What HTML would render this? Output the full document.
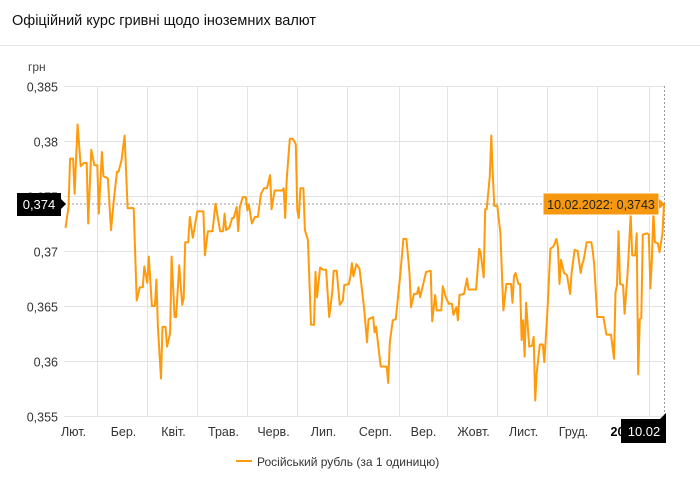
<!DOCTYPE html>
<html><head><meta charset="utf-8"><style>
body{margin:0;background:#fff;font-family:"Liberation Sans",sans-serif}
svg text{font-family:"Liberation Sans","DejaVu Sans",sans-serif}
</style></head><body>
<svg width="700" height="477" xmlns="http://www.w3.org/2000/svg">
<text x="12" y="25" font-size="14.5" fill="#111" font-weight="500">Офіційний курс гривні щодо іноземних валют</text>
<line x1="0" y1="45.5" x2="700" y2="45.5" stroke="#e6e6e6"/>
<text x="28" y="71" font-size="12" fill="#444">грн</text>
<g id="grid"></g>
<g id="ylabels"></g>
<g id="xlabels"></g>
<line x1="64" y1="204" x2="664" y2="204" stroke="#999" stroke-dasharray="2,2"/>
<line x1="664.5" y1="86" x2="664.5" y2="416" stroke="#999" stroke-dasharray="2,2"/>
<path id="line" fill="none" stroke="#ff9a0c" stroke-width="2" stroke-linejoin="round"/>
<g>
<rect x="17" y="193" width="44" height="23" fill="#000"/>
<polygon points="61,199 66,204 61,209" fill="#000"/>
<text x="39" y="209" font-size="13" fill="#fff" text-anchor="middle">0,374</text>
</g>
<g>
<rect x="543" y="193" width="116" height="22" fill="#f6980f" stroke="#fff" stroke-width="1"/>
<polygon points="659,199 665,204 659,209" fill="#f6980f"/>
<text x="601" y="209" font-size="12.5" fill="#222" text-anchor="middle">10.02.2022: 0,3743</text>
</g>
<g id="xbox">
</g>
<g>
<line x1="236" y1="461" x2="252" y2="461" stroke="#ff9a0c" stroke-width="2"/>
<text x="257" y="466" font-size="12" fill="#333">Російський рубль (за 1 одиницю)</text>
</g>
</svg>
<script>
const days=[1,3,4,6,7,9,11,13,15,16,18,20,22,23,25,26,29,31,33,35,36,38,40,42,45,46,48,50,52,53,55,56,58,60,61,62,64,65,67,68,70,71,73,74,76,78,79,80,82,83,85,88,92,93,95,98,100,103,105,106,107,109,111,112,114,115,116,118,120,121,122,124,126,128,130,132,134,136,137,139,144,145,146,147,149,151,153,154,155,156,158,159,161,163,165,166,167,169,171,173,175,177,178,180,182,184,185,188,189,190,191,193,195,198,200,201,204,205,206,209,213,214,215,217,219,222,224,226,228,229,231,233,234,235,239,242,243,245,246,249,250,252,254,256,257,259,260,261,264,266,267,272,274,275,277,278,279,281,282,283,284,286,288,289,290,292,295,296,297,298,300,301,302,303,304,305,307,309,310,311,312,314,316,317,319,321,323,325,326,327,328,330,332,334,335,337,339,341,342,343,345,348,349,350,352,356,358,361,363,364,365,366,367,369,370,372,374,375,377,378,379,380,381,382,385,386,387,388,389,390,392,393,395,396];
const rates=[0.3721,0.374,0.3784,0.3784,0.3752,0.3815,0.3777,0.378,0.378,0.3725,0.3792,0.3778,0.3778,0.3734,0.379,0.3768,0.3766,0.3719,0.3748,0.3772,0.3772,0.3783,0.3805,0.3739,0.3739,0.3739,0.3655,0.3667,0.3667,0.3686,0.3671,0.3695,0.365,0.365,0.3674,0.3631,0.3584,0.3631,0.3631,0.3613,0.3625,0.3695,0.364,0.364,0.3687,0.3651,0.3657,0.3708,0.3708,0.3731,0.3712,0.3736,0.3736,0.3696,0.3718,0.3718,0.3743,0.3718,0.3718,0.3734,0.3719,0.3721,0.373,0.373,0.374,0.3718,0.374,0.3749,0.3749,0.3737,0.3742,0.3725,0.3731,0.3731,0.3752,0.3757,0.3757,0.3769,0.3738,0.3755,0.3755,0.3757,0.373,0.3765,0.3802,0.3802,0.3797,0.3737,0.373,0.3757,0.3757,0.3719,0.371,0.3633,0.3633,0.3681,0.3658,0.3685,0.3683,0.3683,0.364,0.3662,0.3682,0.3682,0.3651,0.3655,0.3669,0.367,0.3677,0.3689,0.3677,0.3688,0.3684,0.3649,0.3617,0.3638,0.364,0.3626,0.3631,0.3595,0.3595,0.358,0.3617,0.3637,0.3638,0.368,0.3711,0.3711,0.368,0.3649,0.3661,0.3661,0.3667,0.3658,0.3681,0.3682,0.3636,0.366,0.3646,0.3646,0.3668,0.3658,0.3652,0.3652,0.3642,0.3649,0.3637,0.366,0.3661,0.3675,0.3665,0.3665,0.3702,0.3698,0.3676,0.3738,0.3738,0.3768,0.3805,0.3769,0.3741,0.3741,0.3716,0.368,0.3646,0.367,0.367,0.3653,0.3677,0.368,0.367,0.367,0.3619,0.3637,0.3604,0.3653,0.3613,0.3614,0.3622,0.3564,0.3589,0.3615,0.3615,0.3599,0.3643,0.3702,0.3704,0.3711,0.3704,0.367,0.3692,0.368,0.3678,0.3661,0.368,0.3701,0.37,0.368,0.3688,0.3692,0.3708,0.3708,0.37,0.3686,0.364,0.364,0.3624,0.3624,0.3602,0.3662,0.3669,0.3718,0.367,0.3669,0.3643,0.368,0.3733,0.3696,0.3696,0.3716,0.3588,0.3638,0.3639,0.3715,0.3716,0.3715,0.3666,0.3692,0.3736,0.3708,0.3707,0.3699,0.3716,0.3743];
const yTicks=[0.385,0.38,0.375,0.37,0.365,0.36,0.355];
const yTickLabels=["0,385","0,38","0,375","0,37","0,365","0,36","0,355"];
const monthDays=[22,55,88,121,154,187,221,253,286,319,352,386];
const monthLabels=["Лют.","Бер.","Квіт.","Трав.","Черв.","Лип.","Серп.","Вер.","Жовт.","Лист.","Груд.","2022"];
const NS="http://www.w3.org/2000/svg";
const X0=64,X1=664,Y0=86,Y1=416,DMAX=396,VMIN=0.355,VMAX=0.385;
const xs=d=>X0+(d/DMAX)*(X1-X0);
const ys=v=>Y1-(v-VMIN)/(VMAX-VMIN)*(Y1-Y0);
const grid=document.getElementById('grid'),yl=document.getElementById('ylabels'),xl=document.getElementById('xlabels');
yTicks.forEach((t,i)=>{
 const l=document.createElementNS(NS,'line');
 
 
 const y=Math.round(ys(t))+0.5;
 l.setAttribute('x1',X0);l.setAttribute('x2',X1);l.setAttribute('y1',y);l.setAttribute('y2',y);
 l.setAttribute('stroke','#e3e3e3');grid.appendChild(l);
 const tx=document.createElementNS(NS,'text');
 
 
 tx.setAttribute('x',58);tx.setAttribute('y',y+5);tx.setAttribute('text-anchor','end');
 tx.setAttribute('font-size','12.5');tx.setAttribute('fill','#333');tx.textContent=yTickLabels[i];yl.appendChild(tx);
});
monthDays.forEach((d,i)=>{
 const x=Math.round(xs(d))+0.5;
 const l=document.createElementNS(NS,'line');
 
 
 l.setAttribute('x1',x);l.setAttribute('x2',x);l.setAttribute('y1',Y0);l.setAttribute('y2',Y1);
 l.setAttribute('stroke','#e3e3e3');grid.appendChild(l);
 const tx=document.createElementNS(NS,'text');
 
 
 tx.setAttribute('x',x-24);tx.setAttribute('y',436);tx.setAttribute('text-anchor','middle');tx.setAttribute('font-size','12.5');tx.setAttribute('fill','#333');
 if(monthLabels[i]==='2022'){tx.setAttribute('font-weight','bold');tx.setAttribute('text-anchor','start');tx.setAttribute('x',x-39);tx.setAttribute('fill','#000');}
 tx.textContent=monthLabels[i];xl.appendChild(tx);
});
const b=document.createElementNS(NS,'line');


b.setAttribute('x1',X0);b.setAttribute('x2',X1);b.setAttribute('y1',86.5);b.setAttribute('y2',86.5);b.setAttribute('stroke','#e3e3e3');grid.appendChild(b);
document.getElementById('line').setAttribute('d',days.map((d,i)=>(i?'L':'M')+xs(d).toFixed(1)+','+ys(rates[i]).toFixed(1)).join(''));
document.getElementById('xbox').innerHTML='<rect x="621" y="419" width="45" height="24" fill="#000"/><polygon points="660,419 666,413 666,419" fill="#000"/><text x="644" y="436" font-size="13" fill="#fff" text-anchor="middle">10.02</text>';
</script>
</body></html>
